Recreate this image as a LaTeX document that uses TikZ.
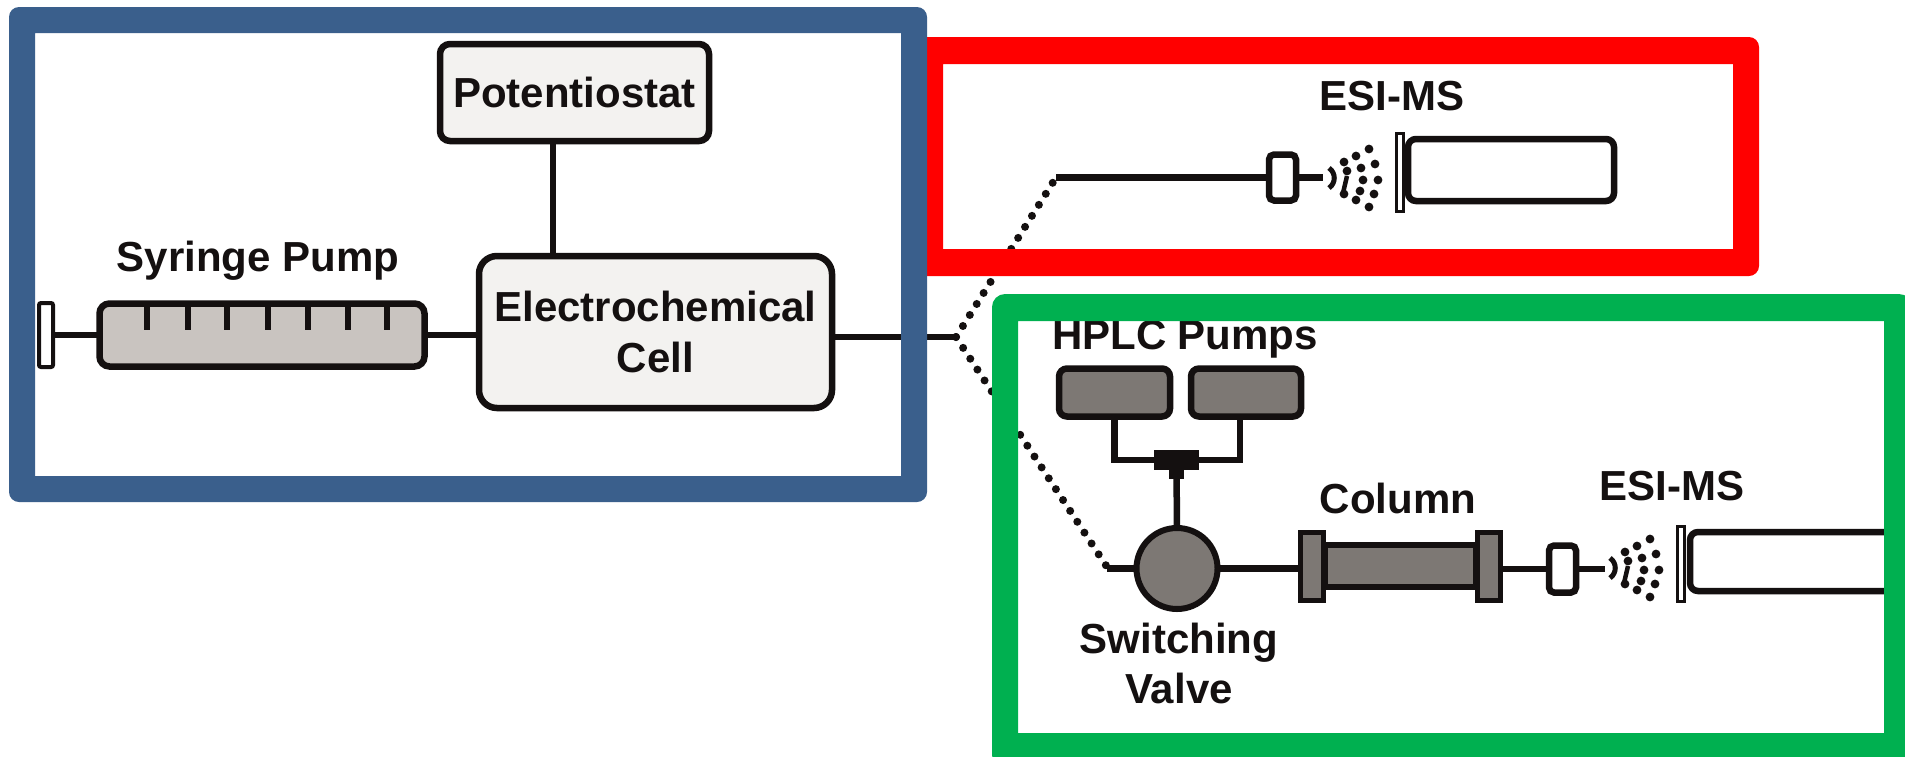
\documentclass[tikz,border=0pt]{standalone}
\usepackage{fontspec}
\setmainfont{Liberation Sans}
\definecolor{framebluec}{HTML}{3A5F8C}
\definecolor{frameredc}{HTML}{FF0000}
\definecolor{framegreenc}{HTML}{00B050}
\definecolor{lightbox}{HTML}{F3F2F0}
\definecolor{syringefill}{HTML}{C9C4C0}
\definecolor{darkfill}{HTML}{7D7874}
\definecolor{inkc}{HTML}{141010}
\tikzset{
  lab/.style={font=\fontsize{42}{51}\selectfont\bfseries, text=inkc, inner sep=0pt, align=center},
  unitbox/.style={draw=inkc, line width=6.5pt, rounded corners=#1, inner sep=0pt, outer sep=0pt},
  unitbox/.default=10pt,
  pipe/.style={draw=inkc, line width=6.5pt},
  dots/.style={draw=inkc, line width=8pt, line cap=round, dash pattern=on 0pt off 13pt},
  ferrule/.style={unitbox=5pt, fill=white, minimum width=27pt, minimum height=46pt},
  plate/.style={draw=inkc, line width=3pt, fill=white, inner sep=0pt, outer sep=0pt, minimum width=7pt},
  pics/spray/.style={code={
    \foreach \a/\b in {40/-29,27/-22,15/-16,46/-14,32/-10,18/-7,49/2,34/2,45/16,31/13,27/22,40/29,15/16}
      \fill[inkc] (\a,\b) circle[radius=4.4];
    \draw[inkc, line width=5pt] (0,-10) .. controls (7,-5) and (7,5) .. (0,10);
    \draw[inkc, line width=4.5pt] (18,-2) -- (14,15);
  }}
}
\begin{document}
\begin{tikzpicture}[x=1pt,y=-1pt]
\useasboundingbox (0,0) rectangle (1905,756);
\fill[white] (0,0) rectangle (1905,756);

% named free ends
\coordinate (hub) at (956,337);
\coordinate (potfoot) at (553,142);
\coordinate (upend) at (1056,177.5);
\coordinate (lowend) at (1107,567);
\coordinate (p2foot) at (1240,418);
\coordinate (tipa) at (1323,177.5);
\coordinate (tipb) at (1605,569);

% blue frame content
\node[unitbox, fill=lightbox, minimum width=269pt, minimum height=97pt, lab] (pot) at (574.5,92.5) {Potentiostat};
\node[unitbox=18pt, fill=lightbox, minimum width=353pt, minimum height=152pt, lab] (cell) at (655.5,332) {Electrochemical\\Cell};
\node[unitbox, fill=syringefill, minimum width=325pt, minimum height=63pt] (syr) at (262,335) {};
\node[draw=inkc, line width=4pt, fill=white, inner sep=0pt, outer sep=0pt, minimum width=14pt, minimum height=64pt, rounded corners=2pt] (plunger) at (46,335) {};
\node[lab, anchor=base] (syrlab) at (258,271) {Syringe Pump};
\foreach \t in {147,188,227,268,308,348,387}
  \draw[inkc, line width=5.5pt] (\t,302) -- (\t,330);
\draw[pipe] (plunger.east) -- (syr.west);
\draw[pipe] (syr.east) -- (syr.east -| cell.west);
\draw[pipe] (potfoot) -- (potfoot |- cell.north);
\draw[pipe] (hub -| cell.east) -- (hub);

% dotted branches
\draw[dots] (hub) -- (upend);
\draw[dots] (hub) -- (lowend);

% direct ESI-MS branch
\node[lab, anchor=base] (esia) at (1392,110) {ESI-MS};
\node[ferrule] (fera) at (1282.5,177.5) {};
\node[plate, minimum height=78pt] (plata) at (1399.5,172) {};
\node[unitbox=8pt, fill=white, minimum width=206pt, minimum height=62pt] (msa) at (1511,170) {};
\draw[pipe] (upend) -- (fera.west);
\draw[pipe] (fera.east) -- (tipa);
\pic at (1329,178) {spray};

% HPLC branch
\node[lab, anchor=base] (hplc) at (1185,349) {HPLC Pumps};
\node[unitbox=8pt, fill=darkfill, minimum width=111pt, minimum height=48pt] (pa) at (1114.5,392.5) {};
\node[unitbox=8pt, fill=darkfill, minimum width=110pt, minimum height=48pt] (pb) at (1246,392.5) {};
\node[fill=inkc, inner sep=0pt, outer sep=0pt, minimum width=45pt, minimum height=20pt] (tee) at (1176.5,460) {};
\draw[pipe] (pa.south) |- (tee.west);
\draw[pipe] (p2foot) |- (tee.east);
\node[draw=inkc, line width=6pt, fill=darkfill, circle, inner sep=0pt, outer sep=0pt, minimum size=81pt] (valve) at (1177,568.5) {};
\draw[inkc, line width=15pt] (tee.south) -- ++(0,9);
\draw[pipe] (tee.south) -- (valve.north);
\draw[pipe] (lowend |- valve.west) -- (valve.west);
\node[lab, anchor=base] (swa) at (1179,653) {Switching};
\node[lab, anchor=base] (swb) at (1179,703) {Valve};
\node[draw=inkc, line width=6.5pt, fill=darkfill, inner sep=0pt, outer sep=0pt, minimum width=152pt, minimum height=42pt] (colbody) at (1400.5,566) {};
\node[draw=inkc, line width=5pt, fill=darkfill, inner sep=0pt, outer sep=0pt, minimum width=23pt, minimum height=68pt] (cola) at (1312,566.5) {};
\node[draw=inkc, line width=5pt, fill=darkfill, inner sep=0pt, outer sep=0pt, minimum width=23pt, minimum height=68pt] (colb) at (1489,566.5) {};
\node[lab, anchor=base] (collab) at (1398,513) {Column};
\node[lab, anchor=base] (esib) at (1672,500) {ESI-MS};
\node[ferrule, minimum height=47pt] (ferb) at (1562.5,569) {};
\node[plate, minimum height=75pt] (platb) at (1680.5,563.5) {};
\node[unitbox=8pt, fill=white, minimum width=210pt, minimum height=59pt] (msb) at (1795,561.5) {};
\draw[pipe] (valve.east) -- (cola.west |- valve.east);
\draw[pipe] (colb.east |- ferb.west) -- (ferb.west);
\draw[pipe] (ferb.east) -- (tipb);
\pic at (1610,568) {spray};

% frames
\fill[frameredc, even odd rule] [rounded corners=10pt] (912,37) rectangle (1759,276) [sharp corners] (943,64) rectangle (1733,249);
\fill[framebluec, even odd rule] [rounded corners=10pt] (9,7) rectangle (927,502) [sharp corners] (35,33) rectangle (901,476);
\fill[framegreenc, even odd rule] [rounded corners=13pt] (992,294) rectangle (1912,768) [sharp corners] (1018,321) rectangle (1884,733);
\end{tikzpicture}
\end{document}
